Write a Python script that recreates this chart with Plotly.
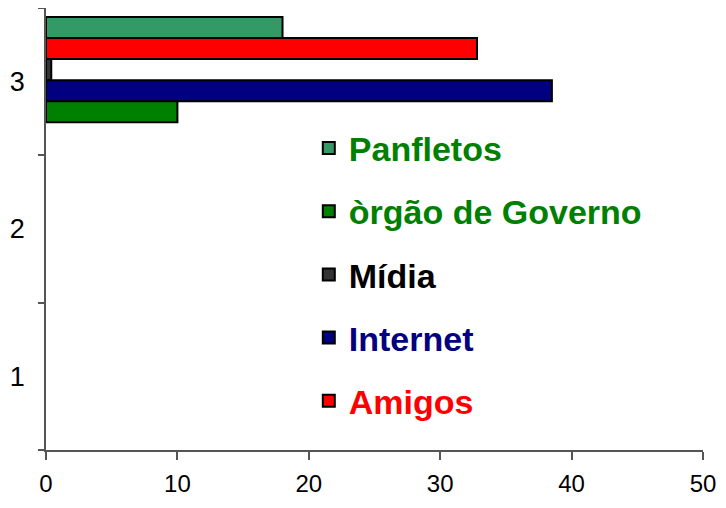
import plotly.graph_objects as go

categories = ["1", "2", "3"]
series_names = ["Panfletos", "Amigos", "Mídia", "Internet", "òrgão de Governo"]
series_values = [18.0, 32.8, 0.4, 38.5, 10.0]
series_colors = ["#339966", "#FF0000", "#333333", "#000080", "#008000"]
text_colors = ["#008000", "#FF0000", "#000000", "#000080", "#008000"]
legend_ranks = [1, 5, 3, 4, 2]
bar_offsets = [0.296, 0.153, 0.010, -0.133, -0.276]
x_ticks = [0, 10, 20, 30, 40, 50]

fig = go.Figure()
for name, val, col, tcol, rank, off in zip(series_names, series_values, series_colors,
                                           text_colors, legend_ranks, bar_offsets):
    fig.add_trace(go.Bar(
        y=["3"], x=[val], orientation="h",
        name=f'<span style="color:{tcol}"><b>{name}</b></span>',
        marker=dict(color=col, line=dict(color="#000000", width=2)),
        width=0.143, offset=off,
        legendrank=rank, legendgroup=name,
    ))

# page body has an 8px margin, so the figure is sized to fit the visible 710x492 area
fig.update_layout(
    width=710, height=492,
    margin=dict(l=38, r=15, t=0, b=50, autoexpand=False),
    paper_bgcolor="white", plot_bgcolor="white",
    barmode="overlay",
    showlegend=True,
    legend=dict(
        x=0.4, y=0.748, xanchor="left", yanchor="top",
        font=dict(family="Liberation Sans, Arial", size=34, color="#008000", weight="bold"),
        bgcolor="rgba(0,0,0,0)", tracegroupgap=16,
        itemsizing="constant",
    ),
    font=dict(family="Liberation Sans, Arial", color="#000000"),
    xaxis=dict(
        range=[0, 50], tickvals=x_ticks, ticktext=[str(v) for v in x_ticks],
        showgrid=False, zeroline=False, showline=True, linecolor="#555555", linewidth=1.5,
        ticks="outside", ticklen=8, tickcolor="#555555", tickwidth=1.5,
        tickfont=dict(size=24), ticklabelstandoff=3, automargin=False,
    ),
    yaxis=dict(
        type="category", categoryorder="array", categoryarray=categories,
        range=[-0.5, 2.5], tickson="boundaries",
        showgrid=False, zeroline=False, showline=True, linecolor="#555555", linewidth=1.5,
        ticks="outside", ticklen=6, tickcolor="#555555", tickwidth=1.5,
        tickfont=dict(size=27), ticklabelstandoff=14, automargin=False,
    ),
)

fig.write_html("out.html")
